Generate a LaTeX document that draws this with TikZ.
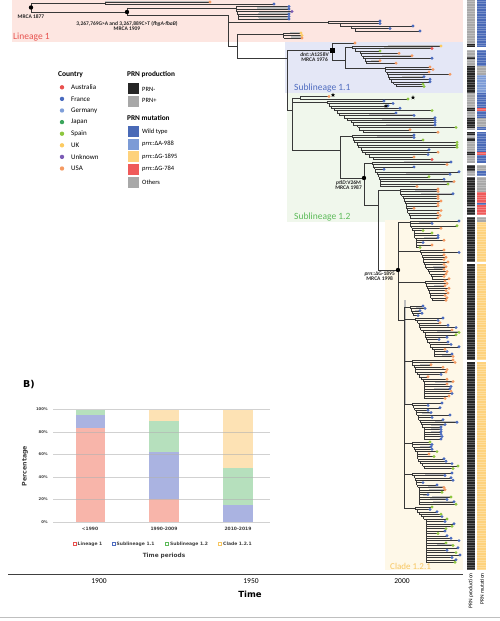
\documentclass[tikz,border=0pt]{standalone}
\usepackage{fontspec}
\setmainfont{Carlito}
\newfontfamily\dvs{DejaVu Sans}
\usetikzlibrary{shapes.geometric}
\definecolor{cB}{HTML}{4A6BBF}
\definecolor{cL}{HTML}{7F9FD9}
\definecolor{cJ}{HTML}{3BA55C}
\definecolor{cG}{HTML}{8DC63F}
\definecolor{cY}{HTML}{FCCB62}
\definecolor{cP}{HTML}{7B5BB5}
\definecolor{cO}{HTML}{F59A62}
\definecolor{cR}{HTML}{E9514F}
\definecolor{kBlk}{HTML}{262626}
\definecolor{kGry}{HTML}{A8A8A8}
\definecolor{mWT}{HTML}{4A6AB7}
\definecolor{mA}{HTML}{7C9BD6}
\definecolor{mY}{HTML}{FED27C}
\definecolor{mR}{HTML}{EF5A5A}
\definecolor{rgPink}{HTML}{FDE6E1}
\definecolor{rgBlue}{HTML}{E4E7F6}
\definecolor{rgGreen}{HTML}{F0F7EC}
\definecolor{rgYel}{HTML}{FEF8E8}
\definecolor{bPink}{HTML}{F8B5AA}
\definecolor{bBlue}{HTML}{AAB3E1}
\definecolor{bGreen}{HTML}{B6E0BD}
\definecolor{bYel}{HTML}{FDE2B4}
\definecolor{tRed}{HTML}{E8534F}
\definecolor{tBlue}{HTML}{4F6CC0}
\definecolor{tGreen}{HTML}{5DBB5A}
\definecolor{tYel}{HTML}{F7C660}
\newcommand\fs[1]{\fontsize{#1}{#1}\selectfont}
\def\gprob{0.15}
% ladder: #1 parent x, #2 start x, #3 first tip y, #4 dy, #5 step, #6 cap, #7 tips x/colour
\newcommand\ladder[7]{%
  \draw[br] (#1,#3+#4/2) -- (#2,#3+#4/2);
  \xdef\lx{#2}%
  \foreach \tx/\tc [count=\i] in {#7} {%
    \pgfmathsetmacro\yy{#3+(\i-1)*#4}%
    \ifnum\i>1 \draw[br] (\lx,\yy-#4) -- (\lx,\yy);\fi
    \pgfmathsetmacro\rr{rnd}%
    \ifdim\rr pt<\gprob pt\relax \draw[gbar] ({\lx+0.4*(\tx-\lx)},\yy) -- (\tx,\yy);\fi
    \draw[br] (\lx,\yy) -- (\tx,\yy);
    \fill[fill=c\tc] (\tx,\yy) circle[radius=1.6];
    \ifnum\i>1 \pgfmathsetmacro\nx{min(\lx+#5*(0.2+1.6*rnd),#6)}\xdef\lx{\nx}\fi
  }%
}
\newcommand\pseg[3]{\fill[#3] (467,#1) rectangle (475,#2);}
\newcommand\mseg[3]{\fill[#3] (477,#1) rectangle (486,#2);}
\begin{document}
\begin{tikzpicture}[x=1pt,y=-1pt,
  br/.style={line width=0.4pt,draw=black!78},
  gbar/.style={line width=2pt,draw=black!25},
  ann/.style={inner sep=0,align=center,font=\bfseries\fs{5.5},text=black!85},
  lgt/.style={anchor=west,inner sep=0,font=\fs{7}},
  ch/.style={inner sep=0,font=\dvs\bfseries\fs{4.5},text=black!75},
  starmark/.style={star,star points=5,star point ratio=2.4,fill=black,inner sep=0,minimum size=4.5pt}]
\useasboundingbox (0,0) rectangle (500,621);
\pgfmathsetseed{11}
% ---------- clade regions ----------
\fill[rgPink] (12,0) rectangle (463,42);
\fill[rgBlue] (285,42) rectangle (463,93);
\fill[rgGreen] (287,93) rectangle (463,222);
\fill[rgYel] (385,220) rectangle (463,570);
\node[anchor=west,inner sep=0,text=tRed,font=\fs{9.5}] (lin1) at (13,37) {Lineage 1};
\node[anchor=west,inner sep=0,text=tBlue,font=\fs{9.5}] (sub11) at (294,88) {Sublineage 1.1};
\node[anchor=west,inner sep=0,text=tGreen,font=\fs{9.5}] (sub12) at (294,217) {Sublineage 1.2};
\node[anchor=west,inner sep=0,text=tYel,font=\fs{9}] (cl121) at (390,566) {Clade 1.2.1};
% ---------- tree : lineage 1 ----------
\draw[br] (31,3) -- (31,12);
\draw[br] (31,12) -- (127,12);
\draw[gbar] (105,2) -- (210,2);
\def\gprob{0}
\ladder{31}{105}{2}{2}{0}{105}{210/O,274/B}
\draw[br] (127,7.75) -- (127,15);
\def\gprob{1}
\ladder{127}{236}{6.5}{2.5}{0.6}{270}{289/B,289/B,292/P,289/B,289/B,289/B}
\draw[br] (127,15) -- (228,15) -- (228,46);
\def\gprob{0.15}
\ladder{228}{328}{21}{2.5}{8}{374}{380/B,380/B,413/B,390/B,420/B}
\draw[br] (228,46) -- (237,46);
\draw[br] (237,34.25) -- (237,58);
\def\gprob{1}
\ladder{237}{283}{33}{2.5}{1}{296}{301/Y,302/Y,302/O}
\def\gprob{0.15}
\draw[br] (237,58) -- (287,58);
\draw[br] (287,50) -- (287,110.5);
% ---------- sublineage 1.1 ----------
\draw[br] (287,50) -- (332,50);
\draw[br] (332,43) -- (332,60);
\draw[br] (332,43) -- (355,43);
\fill[fill=cO] (355,43) circle[radius=1.6];
\draw[br] (332,60) -- (345,60);
\draw[br] (345,47.2) -- (345,68.2);
\ladder{345}{352}{46}{2.45}{3}{376}{441/Y,432/R,380/G,399/O,412/O,432/B,380/O,396/O}
\ladder{345}{385}{67}{2.45}{2}{419}{430/O,433/O,429/O,450/O,424/B,430/B,430/B,423/G,424/G}
% ---------- sublineage 1.2 ----------
\draw[br] (287,110.5) -- (292,110.5);
\draw[br] (292,97.75) -- (292,150);
\ladder{292}{300}{96.5}{2.5}{0}{300}{329/O,408/G}
\ladder{292}{327}{101}{2.4}{3}{380}{384/B,393/B,388/B,400/B,432/G,396/B,414/B,435/B,435/B,435/B,435/B,456/G,410/O,438/O}
\draw[br] (292,150) -- (340,150);
\draw[br] (340,136.2) -- (340,178);
\ladder{340}{352}{135}{2.45}{2.5}{410}{414/B,414/B,423/G,457/G,457/G,457/G,429/B,438/O,428/B,414/O,432/R}
\draw[br] (340,178) -- (364,178);
\draw[br] (364,163.2) -- (364,205);
\ladder{364}{372}{162}{2.45}{1.2}{380}{451/B,447/O,414/B,384/B,459/B,450/B,429/G,444/B,454/O,448/G,417/O}
\draw[br] (364,205) -- (378,205);
\draw[br] (378,190.2) -- (378,270);
\ladder{378}{400}{189}{2.4}{1}{410}{438/O,438/O,453/B,438/O,438/O,441/O,438/O,438/O,414/O,441/O,438/O,440/O,438/O}
% ---------- clade 1.2.1 ----------
\draw[br] (378,270) -- (398,270);
\draw[br] (398,222.2) -- (398,320);
\ladder{398}{410}{221}{2.4}{1}{416}{459/B,432/B,457/G,441/O,423/G,432/G,438/B,438/B,444/O,423/B,432/O,420/G}
\ladder{398}{420}{250}{2.4}{1}{440}{444/O,459/B,444/O,446/O,444/O,448/O,444/O,446/O,444/O,447/O,446/O,444/O,449/O}
\ladder{398}{425}{281}{2.4}{1}{440}{445/O,447/O,445/O,449/O,446/O,448/O,445/O,447/O,446/O}
\draw[gbar] (405,300) -- (405,405);
\draw[br] (398,320) -- (404,320);
\draw[br] (404,307.2) -- (404,508.2);
\ladder{404}{410}{306}{2.4}{1}{414}{423/B,425/B,420/B,422/B,418/B}
\ladder{404}{415}{318}{2.4}{1.5}{434}{443/B,438/B,440/O,448/B,456/B,452/O,459/G,456/G,447/B,439/B,448/B,451/B,459/B,445/O,447/B,452/B,453/O}
\ladder{404}{412}{360}{2.4}{1.5}{424}{453/O,455/O,431/O,443/O,447/O,446/O,441/B,428/O,447/O,453/O,447/O,451/B,450/B,451/O,452/B,449/O,445/O}
\ladder{404}{412}{403}{2.4}{1.5}{424}{442/B,428/B,440/B,428/B,431/B,450/B,432/B,443/B,457/B,445/B,441/B,441/B,441/B,441/B,442/B,441/B}
\ladder{404}{412}{442}{2.4}{1.5}{425}{430/G,432/B,431/B,432/B,437/G,429/O,434/G,444/B,446/B,452/B,458/G,453/G}
\ladder{404}{412}{473}{2.4}{1.5}{419}{452/B,445/B,451/B,453/B,423/B,437/B,444/O,445/O,442/G,428/B,451/G,447/B,454/B,456/G}
\ladder{404}{415}{507}{2.4}{1.5}{426}{432/G,430/B,437/B,441/G,442/B,447/G,445/B,454/B,452/G,446/G,445/B,438/G,447/B,451/B,459/B,446/G,453/G,458/B,447/B,456/G,460/B,452/B,456/B,455/G}
% ---------- stars and dated nodes ----------
\node[starmark] (s1) at (333,95) {};
\node[starmark] (s2) at (413,97.5) {};
\node[starmark] (s3) at (386,106) {};
\fill (31,7.5) circle[radius=2.2];
\node[ann] (m1877) at (31,17) {MRCA 1877};
\fill (127,12) circle[radius=2.2];
\node[ann] (m1909) at (127,26) {3,267,769G>A and 3,267,889C>T (\textit{fhgA-fbaB})\\MRCA 1909};
\fill (330,48) rectangle (334.5,52.5);
\node[ann,anchor=north east] (m1976) at (329,52) {\textit{dnt}::A1258V\\MRCA 1976};
\fill (364,178) circle[radius=2.2];
\node[ann,anchor=north east] (m1987) at (362,180) {\textit{ptlD}:V26M\\MRCA 1987};
\fill (398,270) circle[radius=2.2];
\node[ann,anchor=north east] (m1998) at (395,271) {\textit{prn}::ΔG-1895\\MRCA 1998};
% ---------- PRN columns ----------
\pseg{0}{43.5}{kGry}\pseg{43.5}{47}{kBlk}
\pseg{50}{56.5}{kGry}\pseg{56.5}{59}{kBlk}\pseg{59}{66}{kGry}\pseg{66}{93}{kBlk}\pseg{93}{108}{kGry}\pseg{108}{110.5}{kBlk}\pseg{110.5}{118}{kGry}\pseg{118}{128}{kBlk}\pseg{128}{130}{kGry}
\pseg{132}{135}{kBlk}\pseg{135}{138}{kGry}\pseg{138}{141}{kBlk}\pseg{141}{152}{kGry}\pseg{152}{154.5}{kBlk}\pseg{154.5}{163}{kGry}
\pseg{165}{170.5}{kBlk}\pseg{170.5}{175.5}{kGry}
\pseg{176.5}{206}{kBlk}\pseg{206}{208}{kGry}\pseg{208}{215}{kBlk}
\pseg{217}{262}{kBlk}\pseg{264}{360}{kBlk}\pseg{362}{570}{kBlk}
\mseg{0}{47}{mWT}
\mseg{50}{66}{mWT}\mseg{66}{75}{kGry}\mseg{75}{93}{mA}\mseg{93}{108}{mWT}\mseg{108}{110.5}{mR}\mseg{110.5}{118}{mWT}\mseg{118}{127}{kGry}\mseg{127}{130}{mWT}
\mseg{132}{152}{mWT}\mseg{152}{154.5}{mR}\mseg{154.5}{163}{mWT}
\mseg{165}{170.5}{kGry}\mseg{170.5}{175.5}{mWT}
\mseg{176.5}{192}{kGry}\mseg{192}{203}{mR}\mseg{203}{204.5}{mWT}\mseg{204.5}{215}{mR}
\mseg{217}{222}{kGry}\mseg{222}{262}{mY}\mseg{264}{360}{mY}\mseg{362}{570}{mY}
\foreach \k in {0,...,232} {\draw[white,opacity=.25,line width=.35] (467,\k*2.45+1.2) -- (486,\k*2.45+1.2);}
\node[rotate=90,anchor=east,inner sep=0,font=\fs{5.5}] (plab) at (471,573) {PRN production};
\node[rotate=90,anchor=east,inner sep=0,font=\fs{5.5}] (mlab) at (482,573) {PRN mutation};
% ---------- legend ----------
\node[lgt,font=\bfseries\fs{7.5}] (lgc) at (58,75) {Country};
\foreach \c/\t [count=\i] in {cR/Australia,cB/France,cL/Germany,cJ/Japan,cG/Spain,cY/UK,cP/Unknown,cO/USA} {
  \fill[fill=\c] (62,75.7+\i*11.6) circle[radius=2.2];
  \node[lgt] (lg\i) at (71,75.7+\i*11.6) {\t};
}
\node[lgt,font=\bfseries\fs{7.3}] (lgprod) at (127,75) {PRN production};
\fill[kBlk] (127.5,82.5) rectangle (139,94);
\fill[kGry] (127.5,95.5) rectangle (139,107);
\node[lgt,font=\fs{6.5}] (lgpm) at (142,89.5) {PRN-};
\node[lgt,font=\fs{6.5}] (lgpp) at (142,100.5) {PRN+};
\node[lgt,font=\bfseries\fs{7.3}] (lgmut) at (127,118.3) {PRN mutation};
\fill[mWT] (127.5,126) rectangle (139,137);
\fill[mA] (127.5,138.5) rectangle (139,149.5);
\fill[mY] (127.5,151) rectangle (139,162);
\fill[mR] (127.5,163.5) rectangle (139,174.5);
\fill[kGry] (127.5,176.5) rectangle (139,187.5);
\node[lgt,font=\fs{6.5}] (lgm1) at (142,131.5) {Wild type};
\node[lgt,font=\fs{6.5}] (lgm2) at (142,144) {\textit{prn}::ΔA-988};
\node[lgt,font=\fs{6.5}] (lgm3) at (142,156.5) {\textit{prn}::ΔG-1895};
\node[lgt,font=\fs{6.5}] (lgm4) at (142,169) {\textit{prn}::ΔG-784};
\node[lgt,font=\fs{6.5}] (lgm5) at (142,182) {Others};
% ---------- bar chart ----------
\node[anchor=west,inner sep=0,font=\dvs\bfseries\fs{9.5}] (bl) at (23,385) {B)};
\fill[bPink] (76,522) rectangle (105,427.5);
\fill[bBlue] (76,427.5) rectangle (105,415.1);
\fill[bGreen] (76,415.1) rectangle (105,409.5);
\fill[bPink] (149,522) rectangle (179,498.9);
\fill[bBlue] (149,498.9) rectangle (179,452.25);
\fill[bGreen] (149,452.25) rectangle (179,420.75);
\fill[bYel] (149,420.75) rectangle (179,409.5);
\fill[bBlue] (223,522) rectangle (253,504.6);
\fill[bGreen] (223,504.6) rectangle (253,468);
\fill[bYel] (223,468) rectangle (253,409.5);
\foreach \p in {0,20,40,60,80,100} {
  \draw[black!30,opacity=.6,line width=.5] (53,{522-1.125*\p}) -- (270,{522-1.125*\p});
  \node[ch,anchor=east,font=\dvs\bfseries\fs{3.8}] (yt\p) at (48,{522-1.125*\p}) {\p\%};
}
\node[ch,rotate=90,font=\dvs\bfseries\fs{6.3}] (ylab) at (25,466) {Percentage};
\node[ch] (xc1) at (90,529) {<1990};
\node[ch] (xc2) at (164,529) {1990-2009};
\node[ch] (xc3) at (238,529) {2010-2019};
\foreach \c/\t/\x [count=\i] in {tRed/Lineage 1/73,tBlue/Sublineage 1.1/112,tGreen/Sublineage 1.2/165.5,tYel/Clade 1.2.1/218.5} {
  \draw[draw=\c,line width=.5] (\x,542.4) rectangle (\x+2.8,545.2);
  \node[ch,anchor=west] (cl\i) at (\x+4.5,544) {\t};
}
\node[ch,font=\dvs\bfseries\fs{5.8}] (xlab) at (164,556) {Time periods};
% ---------- time axis ----------
\coordinate (axl) at (8,574);
\coordinate (axr) at (463,574);
\draw[black!75,line width=.7] (axl) -- (axr);
\node[inner sep=0,font=\fs{7.5}] (t1900) at (99,581) {1900};
\node[inner sep=0,font=\fs{7.5}] (t1950) at (251,581) {1950};
\node[inner sep=0,font=\fs{7.5}] (t2000) at (402,581) {2000};
\node[inner sep=0,font=\dvs\bfseries\fs{8.5}] (ttime) at (250,594) {Time};
\coordinate (bll) at (0,617);
\coordinate (blr) at (500,617);
\draw[black!25,line width=1] (bll) -- (blr);
\end{tikzpicture}
\end{document}
